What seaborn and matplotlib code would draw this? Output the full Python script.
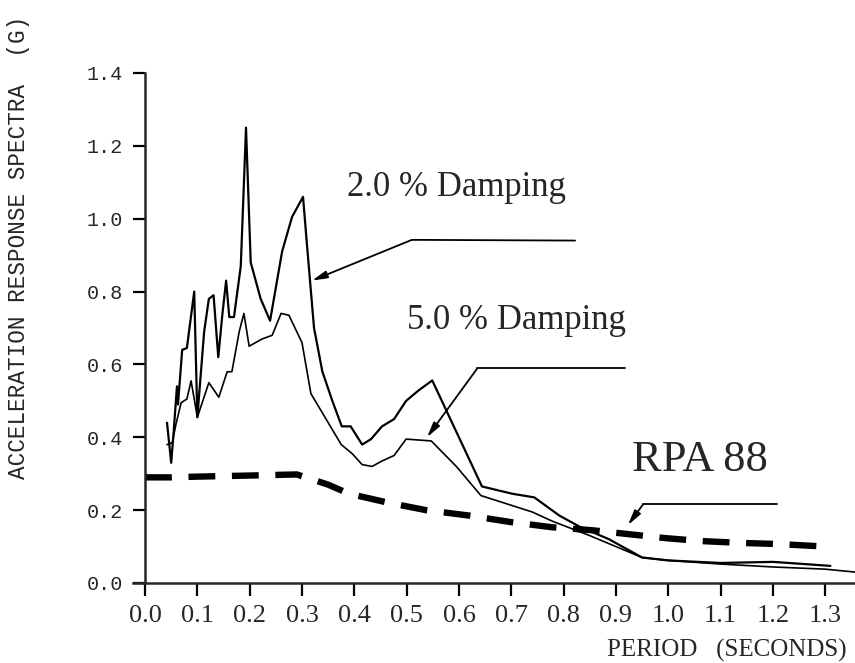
import numpy as np
import pandas as pd
import matplotlib
matplotlib.use('Agg')
import matplotlib.pyplot as plt
import seaborn as sns

# 2.0 % damping response spectrum (period s, acceleration g)
t_2pct = [0.042, 0.050, 0.055, 0.061, 0.063, 0.071, 0.080, 0.094, 0.100, 0.113,
          0.122, 0.131, 0.140, 0.148, 0.155, 0.161, 0.170, 0.183, 0.193, 0.202,
          0.221, 0.239, 0.262, 0.281, 0.302, 0.310, 0.323, 0.339, 0.358, 0.376,
          0.393, 0.415, 0.432, 0.453, 0.476, 0.499, 0.524, 0.549, 0.644, 0.702,
          0.744, 0.792, 0.830, 0.887, 0.950, 1.000, 1.100, 1.200, 1.310]
sa_2pct = [0.44, 0.33, 0.42, 0.54, 0.49, 0.64, 0.645, 0.80, 0.455, 0.69,
           0.78, 0.79, 0.62, 0.74, 0.83, 0.73, 0.73, 0.87, 1.25, 0.88,
           0.78, 0.72, 0.91, 1.005, 1.06, 0.92, 0.70, 0.58, 0.50, 0.43,
           0.43, 0.38, 0.395, 0.43, 0.45, 0.50, 0.53, 0.556, 0.265, 0.245,
           0.235, 0.185, 0.155, 0.12, 0.07, 0.062, 0.055, 0.058, 0.047]

# 5.0 % damping response spectrum
t_5pct = [0.042, 0.052, 0.059, 0.069, 0.080, 0.088, 0.100, 0.122, 0.141, 0.157,
          0.166, 0.180, 0.189, 0.199, 0.224, 0.243, 0.260, 0.275, 0.300, 0.317,
          0.346, 0.375, 0.396, 0.415, 0.434, 0.453, 0.476, 0.499, 0.547, 0.595,
          0.642, 0.740, 0.778, 0.850, 0.950, 1.000, 1.100, 1.200, 1.300, 1.357]
sa_5pct = [0.38, 0.385, 0.435, 0.495, 0.505, 0.555, 0.455, 0.55, 0.51, 0.58,
           0.58, 0.69, 0.74, 0.65, 0.67, 0.68, 0.74, 0.735, 0.66, 0.52,
           0.45, 0.38, 0.355, 0.325, 0.32, 0.335, 0.35, 0.395, 0.39, 0.32,
           0.24, 0.195, 0.17, 0.13, 0.07, 0.062, 0.052, 0.044, 0.038, 0.03]

# RPA 88 design spectrum
t_rpa = [0.0, 0.05, 0.10, 0.20, 0.29, 0.35, 0.39, 0.466, 0.537, 0.62,
         0.70, 0.778, 0.853, 0.925, 0.996, 1.065, 1.14, 1.21, 1.30]
sa_rpa = [0.29, 0.29, 0.292, 0.295, 0.298, 0.27, 0.245, 0.22, 0.20, 0.185,
          0.167, 0.153, 0.145, 0.134, 0.123, 0.115, 0.11, 0.107, 0.10]

x_ticks = [0.0, 0.1, 0.2, 0.3, 0.4, 0.5, 0.6, 0.7, 0.8, 0.9, 1.0, 1.1, 1.2, 1.3]
y_ticks = [0.0, 0.2, 0.4, 0.6, 0.8, 1.0, 1.2, 1.4]

sns.set_style('ticks')
plt.rcParams['font.family'] = ['Liberation Serif', 'DejaVu Serif']

fig = plt.figure(figsize=(8.55, 6.63), dpi=100)
ax = fig.add_axes([133 / 855, 80 / 663, 722 / 855, 510 / 663])

df2 = pd.DataFrame({'T': t_2pct, 'Sa': sa_2pct})
df5 = pd.DataFrame({'T': t_5pct, 'Sa': sa_5pct})
dfr = pd.DataFrame({'T': t_rpa, 'Sa': sa_rpa})

sns.lineplot(data=df2, x='T', y='Sa', ax=ax, color='black', lw=1.6,
             sort=False, estimator=None)
sns.lineplot(data=df5, x='T', y='Sa', ax=ax, color='black', lw=1.2,
             sort=False, estimator=None)
sns.lineplot(data=dfr, x='T', y='Sa', ax=ax, color='black', lw=4.6,
             linestyle=(0, (4.2, 2.6)), dash_capstyle='butt',
             sort=False, estimator=None)

ax.set_xlim(-0.023, 1.357)
ax.set_ylim(0, 1.4)
ax.spines['left'].set_position(('data', 0))
ax.spines['right'].set_visible(False)
ax.spines['top'].set_visible(False)
for s in ['left', 'bottom']:
    ax.spines[s].set_linewidth(1.8)

ax.set_xticks(x_ticks)
ax.set_xticklabels([f'{v:.1f}' for v in x_ticks], fontsize=19,
                   family='Liberation Serif')
ax.set_yticks(y_ticks)
ax.set_yticklabels([f'{v:.1f}' for v in y_ticks], fontsize=14.5,
                   family='Liberation Mono')
ax.tick_params(axis='both', direction='out', length=9, width=1.6, color='black')
ax.tick_params(axis='x', pad=7)
ax.tick_params(axis='y', pad=7)

ax.set_xlabel('')
ax.set_ylabel('')
fig.text(847 / 855, 1 - 650 / 663, 'PERIOD   (SECONDS)', ha='right', va='center',
         fontsize=18, family='Liberation Serif')
fig.text(19 / 855, 1 - 247 / 663, 'ACCELERATION RESPONSE SPECTRA  (G)',
         rotation=90, ha='center', va='center', fontsize=16.3,
         family='Liberation Mono')

# curve labels with leader arrows
arrow = dict(arrowstyle='-|>,head_length=0.9,head_width=0.22', lw=1.3,
             color='black', shrinkA=0, shrinkB=0)

ax.text(0.386, 1.085, '2.0 % Damping', fontsize=25, va='center', ha='left')
ax.plot([0.51, 0.822], [0.942, 0.94], color='black', lw=1.3)
ax.annotate('', xy=(0.319, 0.83), xytext=(0.51, 0.942), arrowprops=arrow)

ax.text(0.50, 0.72, '5.0 % Damping', fontsize=25, va='center', ha='left')
ax.plot([0.635, 0.918], [0.589, 0.589], color='black', lw=1.3)
ax.annotate('', xy=(0.539, 0.40), xytext=(0.635, 0.589), arrowprops=arrow)

ax.text(0.931, 0.337, 'RPA 88', fontsize=32, va='center', ha='left')
ax.plot([0.952, 1.208], [0.216, 0.216], color='black', lw=1.3)
ax.annotate('', xy=(0.923, 0.159), xytext=(0.952, 0.216), arrowprops=arrow)

fig.savefig('out.png', dpi=100)
